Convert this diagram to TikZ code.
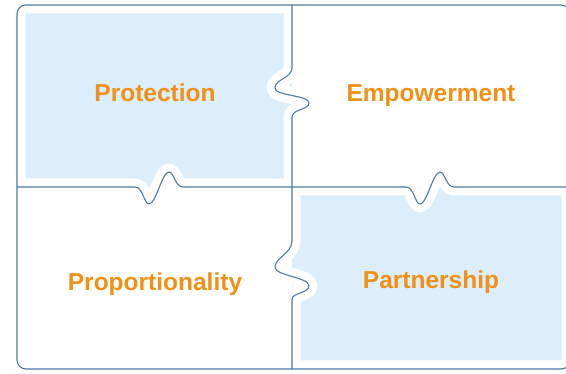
\documentclass[tikz,border=0pt]{standalone}
\usepackage{fontspec}
\setmainfont{Liberation Sans}
\usepackage{tikz}
\usepackage{xcolor}

\definecolor{lineblue}{RGB}{74,122,168}
\definecolor{paleblue}{RGB}{220,237,251}
\definecolor{tagorange}{RGB}{240,144,22}

% divider paths with the puzzle wiggles
\newcommand{\vdivpath}{(292,5) -- (292,68) .. controls (292,78) and (275,79) .. (275,88) .. controls (275,96) and (309,95) .. (309,103) .. controls (309,110) and (292,109) .. (292,117) -- (292,241) .. controls (292,253) and (275,258) .. (275,267) .. controls (275,276) and (309,277) .. (309,286) .. controls (309,293) and (292,293) .. (292,299) -- (292,369)}
\newcommand{\hdivpath}{(17,187) -- (135,187) .. controls (143,187) and (144,204) .. (149,204) .. controls (156,204) and (162,172) .. (169,172) .. controls (174,172) and (175,187) .. (183,187) -- (406,187) .. controls (414,187) and (415,204) .. (420,204) .. controls (427,204) and (433,172) .. (440,172) .. controls (445,172) and (446,187) .. (454,187) -- (570,187)}

\tikzset{
  halo/.style={white, line width=17pt, line join=round, line cap=round},
  divider/.style={lineblue, line width=1.1pt},
  quadtext/.style={anchor=base, text=tagorange, font=\fontsize{24.5}{29}\selectfont\bfseries},
}

\begin{document}
\begin{tikzpicture}[x=1pt,y=-1pt]
                \useasboundingbox (0,0) rectangle (566,374);
                \begin{scope}
                \clip[rounded corners=9] (17,5) rectangle (570,369);
                \fill[paleblue] (17,5) rectangle (292,187);
                \fill[paleblue] (292,187) rectangle (570,369);
                \end{scope}
                \draw[halo, rounded corners=9] (17,5) rectangle (570,369);
                \draw[halo] \hdivpath;
                \draw[halo] \vdivpath;
                \draw[divider, rounded corners=9] (17,5) rectangle (570,369);
                \draw[divider] \hdivpath;
                \draw[divider] \vdivpath;
                \node[quadtext] (protection) at (155,102) {Protection};
                \node[quadtext] (empowerment) at (431,102) {Empowerment};
                \node[quadtext] (proportionality) at (155,291) {Proportionality};
                \node[quadtext] (partnership) at (431,289) {Partnership};
            \end{tikzpicture}
\end{document}
